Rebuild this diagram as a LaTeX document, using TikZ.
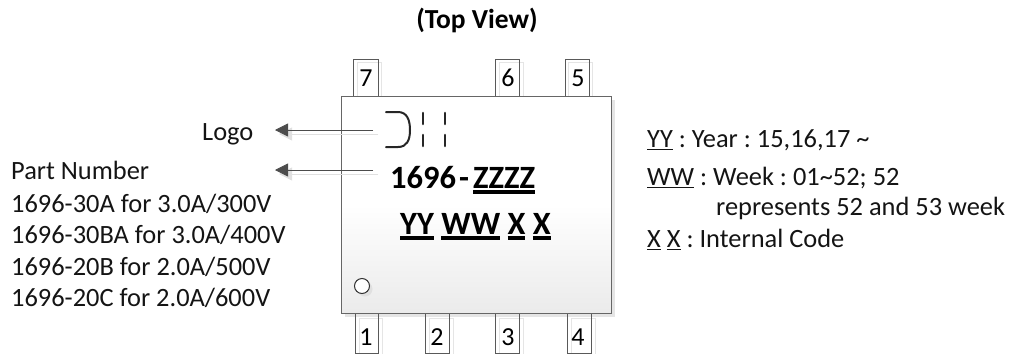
\documentclass[tikz,border=0pt]{standalone}
\usepackage{fontspec}
\setmainfont{Carlito}
\usetikzlibrary{arrows.meta,shadings}
\newcommand{\ulmark}[3]{\setbox0=\hbox{#3}\rlap{\rule[#1]{\wd0}{#2}}\box0\relax}
\newcommand{\ul}[1]{\ulmark{-3.2pt}{1.2pt}{#1}}
\newcommand{\ulb}[1]{\ulmark{-5.6pt}{3.8pt}{#1}}
\tikzset{
  x=1pt,y=-1pt,
  pinedge/.style={draw=black!65,line width=0.8pt},
  pinshadow/.style={draw=black!10,line width=0.8pt},
  pinnum/.style={font=\fontsize{26}{26}\selectfont,inner sep=0pt},
  txt/.style={font=\fontsize{26.4}{26.4}\selectfont\frenchspacing,inner sep=0pt,anchor=base west,text=black!92},
  bold/.style={font=\fontsize{32.5}{32.5}\selectfont\bfseries\frenchspacing,inner sep=0pt,anchor=base west},
  lead/.style={line width=0.8pt,-{Triangle[length=13pt,width=13pt]},color=black!70},
  leadshadow/.style={line width=0.8pt,-{Triangle[length=13pt,width=13pt]},color=black!12},
  logo/.style={line width=2pt,color=black!85,line cap=round},
  logobar/.style={line width=2.6pt,color=black!85,line cap=round}
}
\begin{document}
\begin{tikzpicture}
\useasboundingbox (0,0) rectangle (1013,354);
% pin shadows
\foreach \a/\b/\c/\d in {357/381/62/97,499/523/62/97,568/592/62/97,359/382/318/354,429/453/318/354,499/523/318/354,571/595/318/354}{
  \draw[pinshadow] (\a,\d) -- (\a,\c) -- (\b,\c) -- (\b,\d);
}
% package
\fill[black!10] (345,100) rectangle (615,317);
\shade[top color=white,bottom color=black!8,middle color=white] (341,96) rectangle (611,313);
\draw[draw=black!60,line width=0.8pt] (341,96) rectangle (611,313);
\coordinate (pkgA) at (373,130);
\coordinate (pkgB) at (373,170);
\coordinate (pkgAs) at (378,134);
\coordinate (pkgBs) at (378,174);
\coordinate (tipA) at (275,130);
\coordinate (tipB) at (275,170);
\coordinate (tipAs) at (279,134);
\coordinate (tipBs) at (279,174);
\draw[leadshadow] (pkgAs) -- (tipAs);
\draw[leadshadow] (pkgBs) -- (tipBs);
\draw[lead] (pkgA) -- (tipA);
\draw[lead] (pkgB) -- (tipB);
% pins
\draw[pinedge] (353,96) -- (353,59) -- (378,59) -- (378,96);
\draw[pinedge] (495,96) -- (495,59) -- (519,59) -- (519,96);
\draw[pinedge] (565,96) -- (565,59) -- (589,59) -- (589,96);
\draw[pinedge] (355,314) -- (355,353) -- (378,353) -- (378,314);
\draw[pinedge] (425.5,314) -- (425.5,353) -- (449,353) -- (449,314);
\draw[pinedge] (495,314) -- (495,353) -- (519,353) -- (519,314);
\draw[pinedge] (567,314) -- (567,353) -- (591,353) -- (591,314);
\node[pinnum] (p7) at (366,78) {7};
\node[pinnum] (p6) at (508,78) {6};
\node[pinnum] (p5) at (578,78) {5};
\node[pinnum] (p1) at (366,337) {1};
\node[pinnum] (p2) at (437,337) {2};
\node[pinnum] (p3) at (508,337) {3};
\node[pinnum] (p4) at (578,337) {4};
% logo
\draw[logo] (386,112) -- (398,112) .. controls (407,112) and (410,120) .. (410,130) .. controls (410,140) and (407,147) .. (398,147) -- (386,147);
\draw[logobar] (423,113) -- (423,124);
\draw[logobar] (423,135) -- (423,146);
\draw[logobar] (445,113) -- (445,124);
\draw[logobar] (445,135) -- (445,146);
% pin-one mark
\fill[black!12] (365,289) circle (7.5);
\draw[black!80,fill=white,line width=1pt] (362,286) circle (7.5);
% text
\node[font=\fontsize{27.5}{27.5}\selectfont\bfseries,inner sep=0pt,anchor=base] (title) at (477,28) {(Top View)};
\node[txt] (logotxt) at (202,140) {Logo};
\node[txt] (pn) at (11,179) {Part Number};
\node[txt] (l1) at (11,212) {1696-30A for 3.0A/300V};
\node[txt] (l2) at (11,243) {1696-30BA for 3.0A/400V};
\node[txt] (l3) at (11,275) {1696-20B for 2.0A/500V};
\node[txt] (l4) at (11,306) {1696-20C for 2.0A/600V};
\node[bold] (part) at (390,188) {1696\kern3pt-\kern4pt\ulb{ZZZZ}};
\node[bold] (code) at (400,234) {\ulb{YY} \ulb{WW} \ulb{X} \ulb{X}};
\node[txt] (r1) at (647,147) {\ul{YY} : Year : 15,16,17 \char`\~};
\node[txt] (r2) at (647,185) {\ul{WW} : Week : 01\char`\~52; 52};
\node[txt] (r3) at (716,215) {represents 52 and 53 week};
\node[txt] (r4) at (647,247) {\ul{X} \ul{X} : Internal Code};
\end{tikzpicture}
\end{document}
